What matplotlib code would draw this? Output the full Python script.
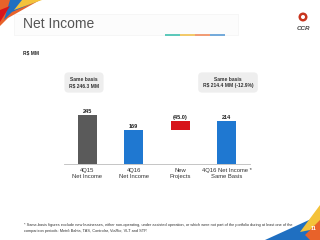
import matplotlib.pyplot as plt
from matplotlib.patches import Polygon, Circle

plt.rcParams["font.family"] = ["Liberation Sans", "DejaVu Sans"]

# Chart data (R$ MM)
categories = ["4Q15\nNet Income", "4Q16\nNet Income", "New\nProjects", "4Q16 Net Income *\nSame Basis"]
values = [245, 169, 45.0, 214]
value_labels = ["245", "169", "(45.0)", "214"]
bar_colors = ["#5a5a5a", "#1f78d1", "#d7141a", "#1f78d1"]
box_texts = ["Same basis\nR$ 246.3 MM", "Same basis\nR$ 214.4 MM (-12.9%)"]
footnote = ("* Same-basis figures exclude new businesses, either non-operating, under assisted operation, "
            "or which were not part of the portfolio during at least one of the\n"
            "comparison periods: Metrô Bahia, TAS, Controlar, ViaRio, VLT and STP.")

W, H = 320, 240
fig = plt.figure(figsize=(3.2, 2.4), dpi=100)

# background overlay in pixel coordinates (y down)
bg = fig.add_axes([0, 0, 1, 1])
bg.set_xlim(0, W)
bg.set_ylim(H, 0)
bg.axis("off")

# header band with colored underline
bg.add_patch(Polygon([[14, 14], [238, 14], [238, 35], [14, 35]], closed=True,
                     facecolor="#fcfcfc", edgecolor="#f3f3f3", linewidth=0.5))
for x0, c in zip([165, 180, 195, 210], ["#3fbfae", "#f2c14e", "#ef8a5c", "#5b9bd5"]):
    bg.plot([x0, x0 + 15], [34.5, 34.5], color=c, linewidth=1.2, solid_capstyle="butt")

# top-left swoosh
bg.add_patch(Polygon([[0, 0], [40, 0], [8, 18], [0, 26]], facecolor="#e8622a", edgecolor="none"))
bg.add_patch(Polygon([[10, 0], [40, 0], [12, 12], [4, 20]], facecolor="#1f6fc1", edgecolor="none"))
bg.add_patch(Polygon([[22, 0], [42, 0], [14, 10]], facecolor="#f4c23a", edgecolor="none"))
bg.add_patch(Polygon([[0, 10], [10, 6], [0, 22]], facecolor="#d7141a", edgecolor="none"))

# bottom-right swoosh
bg.add_patch(Polygon([[265, 240], [320, 215], [320, 240]], facecolor="#1f6fc1", edgecolor="none"))
bg.add_patch(Polygon([[300, 232], [320, 205], [320, 228]], facecolor="#f4c23a", edgecolor="none"))
bg.add_patch(Polygon([[305, 235], [320, 220], [320, 240], [310, 240]], facecolor="#e8622a", edgecolor="none"))
bg.text(316, 228, "11", fontsize=4, color="white", ha="right", va="center", fontweight="bold")

# logo
bg.add_patch(Circle((303, 17), 4.5, facecolor="#c8351e", edgecolor="none"))
bg.add_patch(Circle((303, 17), 2, facecolor="white", edgecolor="none"))
bg.text(303, 29, "CCR", fontsize=4.5, color="#444444", ha="center", va="center",
        fontweight="bold", style="italic")

bg.text(23, 24, "Net Income", fontsize=10, color="#555555", ha="left", va="center")
bg.text(23, 53, "R$ MM", fontsize=3.5, color="#222222", ha="left", va="center", fontweight="bold")

bg.text(24, 228, footnote, fontsize=2.75, color="#333333", ha="left", va="center", linespacing=1.4)

for (cx, txt) in zip([84, 228], box_texts):
    bg.text(cx, 82.5, txt, fontsize=3.6, color="#333333", ha="center", va="center",
            fontweight="bold", linespacing=1.3,
            bbox=dict(boxstyle="round,pad=0.9,rounding_size=0.8", facecolor="#eeeeee", edgecolor="none"))

# bar chart axes
ax = fig.add_axes([64 / W, 76 / H, 186 / W, 60 / H])
x = range(len(categories))
bottoms = [0, 0, values[1], 0]
ax.bar(x, values, width=0.41, bottom=bottoms, color=bar_colors)
for i, (v, b, lab) in enumerate(zip(values, bottoms, value_labels)):
    ax.text(i, v + b + 6, lab, ha="center", va="bottom", fontsize=4, fontweight="bold", color="#222222")

ax.set_xlim(-0.5, 3.5)
ax.set_ylim(0, 300)
ax.set_xticks(list(x))
ax.set_xticklabels(categories, fontsize=4.2, color="#333333", linespacing=1.2)
ax.tick_params(axis="x", length=0, pad=3)
ax.set_yticks([])
for s in ["top", "right", "left"]:
    ax.spines[s].set_visible(False)
ax.spines["bottom"].set_color("#bbbbbb")
ax.spines["bottom"].set_linewidth(0.6)
ax.patch.set_alpha(0)

fig.savefig("out.png", dpi=100)
